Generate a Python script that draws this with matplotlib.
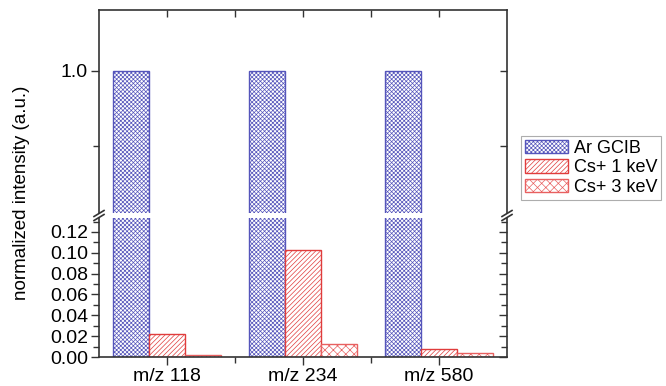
import numpy as np
import matplotlib
matplotlib.use("Agg")
import matplotlib.pyplot as plt
from matplotlib.ticker import MultipleLocator, FixedLocator

plt.rcParams['font.family'] = ['Liberation Sans', 'DejaVu Sans']
plt.rcParams['hatch.linewidth'] = 0.5

# data
categories = ['m/z 118', 'm/z 234', 'm/z 580']
series = ['Ar GCIB', 'Cs+ 1 keV', 'Cs+ 3 keV']
ar_gcib = [1.0, 1.0, 1.0]
cs_1kev = [0.022, 0.103, 0.008]
cs_3kev = [0.002, 0.012, 0.004]

values = [ar_gcib, cs_1kev, cs_3kev]
edge_colors = ['#5555bb', '#e03c3c', '#e86060']
hatches = ['xxxxxxxx', '///////', 'xxxx']

W, H = 666, 386
fig = plt.figure(figsize=(W / 100, H / 100), dpi=100)

left, right = 99 / W, 507 / W
ax_top = fig.add_axes([left, 1 - 213 / H, right - left, (213 - 10) / H])
ax_bot = fig.add_axes([left, 1 - 357 / H, right - left, (357 - 218) / H])

x = np.arange(1, len(categories) + 1)
width = 0.265
spine_col = '#333333'

for ax in (ax_top, ax_bot):
    for i, (vals, ec, h) in enumerate(zip(values, edge_colors, hatches)):
        ax.bar(x + (i - 1) * width, vals, width, color='white', edgecolor=ec,
               hatch=h, linewidth=1.0, label=series[i])
    ax.set_xlim(0.5, 3.5)
    for s in ax.spines.values():
        s.set_color(spine_col)
        s.set_linewidth(1.2)

ax_top.set_ylim(0.81, 1.081)
ax_bot.set_ylim(0, 0.1334)

ax_top.spines['bottom'].set_visible(False)
ax_bot.spines['top'].set_visible(False)

# upper axis ticks
ax_top.yaxis.set_major_locator(FixedLocator([1.0]))
ax_top.yaxis.set_minor_locator(FixedLocator([0.9]))
ax_top.set_yticklabels(['1.0'])
ax_top.tick_params(axis='x', which='both', bottom=False, labelbottom=False)
ax_top.tick_params(axis='y', which='major', direction='out', length=6, width=1,
                   color=spine_col, labelsize=14, pad=2)
ax_top.tick_params(axis='y', which='minor', direction='out', length=4, width=1,
                   color=spine_col)

# lower axis ticks
ax_bot.yaxis.set_major_locator(MultipleLocator(0.02))
ax_bot.yaxis.set_minor_locator(MultipleLocator(0.01))
ax_bot.yaxis.set_major_formatter(plt.FormatStrFormatter('%.2f'))
ax_bot.set_xticks(x)
ax_bot.set_xticklabels(categories)
ax_bot.xaxis.set_minor_locator(FixedLocator([1.5, 2.5]))
ax_bot.tick_params(axis='both', which='major', direction='out', length=6, width=1,
                   color=spine_col, labelsize=14)
ax_bot.tick_params(axis='both', which='minor', direction='out', length=4, width=1,
                   color=spine_col)
ax_bot.tick_params(axis='y', pad=2)
ax_bot.tick_params(axis='x', pad=2)

# mirrored ticks pointing inward on right and top
sec_top_r = ax_top.secondary_yaxis('right')
sec_top_r.yaxis.set_major_locator(FixedLocator([1.0]))
sec_top_r.yaxis.set_minor_locator(FixedLocator([0.9]))
sec_top_r.tick_params(which='both', direction='in', length=5, width=1,
                      color=spine_col, labelright=False)
sec_top_r.spines['right'].set_visible(False)

sec_top_x = ax_top.secondary_xaxis('top')
sec_top_x.xaxis.set_major_locator(FixedLocator(list(x)))
sec_top_x.xaxis.set_minor_locator(FixedLocator([1.5, 2.5]))
sec_top_x.tick_params(which='both', direction='in', length=5, width=1,
                      color=spine_col, labeltop=False)
sec_top_x.spines['top'].set_visible(False)

sec_bot_r = ax_bot.secondary_yaxis('right')
sec_bot_r.yaxis.set_major_locator(MultipleLocator(0.02))
sec_bot_r.yaxis.set_minor_locator(MultipleLocator(0.01))
sec_bot_r.tick_params(which='major', direction='in', length=6, width=1,
                      color=spine_col, labelright=False)
sec_bot_r.tick_params(which='minor', direction='in', length=4, width=1,
                      color=spine_col, labelright=False)
sec_bot_r.spines['right'].set_visible(False)

# axis break marks
for xp in (99, 507):
    for dy in (-2, 2):
        x0, x1 = xp - 5, xp + 5
        y0, y1 = 215.5 + dy + 3, 215.5 + dy - 3
        fig.add_artist(plt.Line2D([x0 / W, x1 / W], [1 - y0 / H, 1 - y1 / H],
                                  transform=fig.transFigure, color=spine_col, lw=1.2))

fig.text(22 / W, 0.5, 'normalized intensity (a.u.)', rotation=90,
         va='center', ha='center', fontsize=13.5)

handles, labels = ax_top.get_legend_handles_labels()
leg = fig.legend(handles, labels, loc='upper left',
                 bbox_to_anchor=(521 / W, 1 - 136 / H), fontsize=13,
                 frameon=True, fancybox=False, edgecolor='#999999',
                 handlelength=2.4, handleheight=0.75, borderpad=0.2,
                 labelspacing=0.15, handletextpad=0.35, borderaxespad=0)
leg.get_frame().set_linewidth(0.8)

fig.savefig('out.png', dpi=100)
